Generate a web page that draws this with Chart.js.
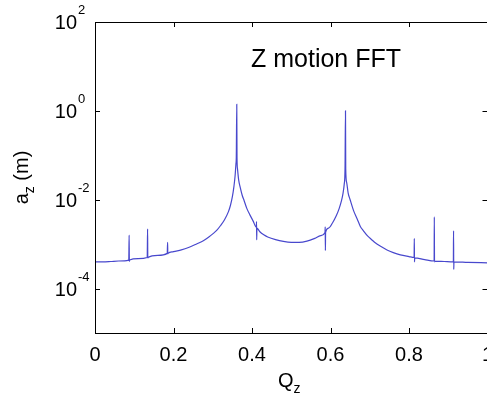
<!DOCTYPE html>
<html>
<head>
<meta charset="utf-8">
<script src="https://cdn.jsdelivr.net/npm/chart.js@4"></script>
<style>
  html, body { margin: 0; padding: 0; background: #fff; overflow: hidden; }
  #wrap { position: absolute; left: 0; top: 0; width: 520px; height: 397px; }
</style>
</head>
<body>
<div id="wrap"><canvas id="fftChart" width="520" height="397"></canvas></div>
<script>
// tune Q_z and FFT amplitude a_z (m)
const qValues = [
    0.000, 0.020, 0.040, 0.060, 0.086, 0.087, 0.0875, 0.088, 0.110, 0.133,
    0.134, 0.1345, 0.135, 0.160, 0.184, 0.185, 0.1855, 0.186, 0.200, 0.220,
    0.240, 0.260, 0.270, 0.280, 0.290, 0.300, 0.310, 0.320, 0.330, 0.340,
    0.345, 0.350, 0.354, 0.357, 0.359, 0.360, 0.3612, 0.3618, 0.363, 0.366,
    0.370, 0.375, 0.380, 0.387, 0.395, 0.403, 0.411, 0.4115, 0.412, 0.4125,
    0.420, 0.430, 0.440, 0.460, 0.480, 0.500, 0.520, 0.540, 0.560, 0.575,
    0.586, 0.5865, 0.587, 0.5875, 0.595, 0.605, 0.615, 0.622, 0.628, 0.632,
    0.635, 0.637, 0.6382, 0.6388, 0.641, 0.645, 0.650, 0.659, 0.668, 0.676,
    0.684, 0.695, 0.705, 0.714, 0.730, 0.744, 0.760, 0.778, 0.800, 0.813,
    0.8135, 0.814, 0.8145, 0.840, 0.864, 0.8645, 0.865, 0.8655, 0.890, 0.913,
    0.9135, 0.914, 0.9145, 0.950, 1.000
];
const azValues = [
    4.0e-4, 4.0e-4, 4.07e-4, 4.17e-4, 4.37e-4, 1.6e-3, 4.1e-4, 4.4e-4, 4.7e-4, 5.0e-4,
    2.2e-3, 4.9e-4, 5.0e-4, 5.6e-4, 6.2e-4, 1.1e-3, 6.1e-4, 6.2e-4, 6.8e-4, 7.4e-4,
    8.5e-4, 1.02e-3, 1.12e-3, 1.26e-3, 1.45e-3, 1.7e-3, 2.04e-3, 2.63e-3, 3.55e-3, 5.4e-3,
    7.4e-3, 1.17e-2, 2.0e-2, 3.5e-2, 6.3e-2, 9.3e-2, 1.4, 9.0e-2, 5.0e-2, 2.8e-2,
    1.9e-2, 1.26e-2, 9.5e-3, 6.3e-3, 4.5e-3, 3.3e-3, 2.4e-3, 3.2e-3, 1.25e-3, 2.3e-3,
    1.9e-3, 1.62e-3, 1.45e-3, 1.26e-3, 1.15e-3, 1.1e-3, 1.1e-3, 1.17e-3, 1.35e-3, 1.55e-3,
    1.82e-3, 2.45e-3, 7.2e-4, 1.85e-3, 2.3e-3, 3.0e-3, 4.4e-3, 6.3e-3, 9.5e-3, 1.41e-2,
    2.24e-2, 5.0e-2, 1.0, 5.0e-2, 2.5e-2, 1.41e-2, 1.0e-2, 5.6e-3, 3.7e-3, 2.5e-3,
    2.0e-3, 1.51e-3, 1.26e-3, 1.07e-3, 8.7e-4, 7.4e-4, 6.46e-4, 5.75e-4, 5.25e-4, 5.0e-4,
    1.35e-3, 4.0e-4, 4.9e-4, 4.47e-4, 4.17e-4, 4.1e-3, 4.0e-4, 4.15e-4, 4.07e-4, 4.0e-4,
    2.0e-3, 2.7e-4, 4.0e-4, 3.9e-4, 3.8e-4
];
const xTickValues = [0, 0.2, 0.4, 0.6, 0.8, 1];
const yTickValues = [1e-4, 1e-2, 1e0, 1e2];
const yTickExponents = ['-4', '-2', '0', '2'];
const plotTitle = 'Z motion FFT';

const FONT = "'Liberation Sans', Arial, sans-serif";

// matlab style box, inward ticks, superscript / subscript labels
const matlabAxes = {
    id: 'matlabAxes',
    afterDraw(chart) {
        const ctx = chart.ctx;
        const a = chart.chartArea;
        const x = chart.scales.x;
        const y = chart.scales.y;
        ctx.save();
        ctx.strokeStyle = '#000';
        ctx.lineWidth = 1;
        ctx.strokeRect(a.left + 0.5, a.top + 0.5, a.right - a.left, a.bottom - a.top);

        ctx.beginPath();
        xTickValues.forEach(v => {
            const px = Math.round(x.getPixelForValue(v)) + 0.5;
            ctx.moveTo(px, a.bottom); ctx.lineTo(px, a.bottom - 5);
            ctx.moveTo(px, a.top); ctx.lineTo(px, a.top + 5);
        });
        yTickValues.forEach(v => {
            const py = Math.round(y.getPixelForValue(v)) + 0.5;
            ctx.moveTo(a.left, py); ctx.lineTo(a.left + 5, py);
            ctx.moveTo(a.right, py); ctx.lineTo(a.right - 5, py);
        });
        ctx.stroke();

        ctx.fillStyle = '#000';
        ctx.textBaseline = 'alphabetic';
        yTickValues.forEach((v, i) => {
            const py = y.getPixelForValue(v);
            ctx.font = '20px ' + FONT;
            ctx.textAlign = 'right';
            ctx.fillText('10', a.left - 18, py + 7);
            ctx.font = '13px ' + FONT;
            ctx.textAlign = 'left';
            ctx.fillText(yTickExponents[i], a.left - 17, py - 8);
        });

        // y title: a_z (m)
        ctx.save();
        ctx.translate(a.left - 67, (a.top + a.bottom) / 2);
        ctx.rotate(-Math.PI / 2);
        ctx.font = '20px ' + FONT;
        const wA = ctx.measureText('a').width;
        const wM = ctx.measureText(' (m)').width;
        ctx.font = '14px ' + FONT;
        const wZ = ctx.measureText('z').width;
        const x0 = -(wA + wZ + wM) / 2;
        ctx.textAlign = 'left';
        ctx.font = '20px ' + FONT;
        ctx.fillText('a', x0, 0);
        ctx.font = '14px ' + FONT;
        ctx.fillText('z', x0 + wA, 6);
        ctx.font = '20px ' + FONT;
        ctx.fillText(' (m)', x0 + wA + wZ, 0);
        ctx.restore();

        // x title: Q_z
        ctx.font = '20px ' + FONT;
        const wQ = ctx.measureText('Q').width;
        ctx.font = '14px ' + FONT;
        const wz = ctx.measureText('z').width;
        const cx = (a.left + a.right) / 2 - 2;
        ctx.textAlign = 'left';
        ctx.font = '20px ' + FONT;
        ctx.fillText('Q', cx - (wQ + wz) / 2, a.bottom + 54);
        ctx.font = '14px ' + FONT;
        ctx.fillText('z', cx - (wQ + wz) / 2 + wQ, a.bottom + 60);

        // title inside the axes
        ctx.font = '25px ' + FONT;
        ctx.fillText(plotTitle, a.left + 156, a.top + 45);
        ctx.restore();
    }
};

new Chart(document.getElementById('fftChart'), {
    type: 'line',
    data: {
        datasets: [{
            data: qValues.map((q, i) => ({x: q, y: azValues[i]})),
            borderColor: 'rgb(72, 72, 205)',
            borderWidth: 1.2,
            pointRadius: 0,
            cubicInterpolationMode: 'monotone',
            fill: false
        }]
    },
    options: {
        responsive: false,
        animation: false,
        devicePixelRatio: 1,
        layout: { padding: { left: 0, top: 22, right: 32.5, bottom: 0 } },
        plugins: {
            legend: { display: false },
            tooltip: { enabled: false }
        },
        scales: {
            x: {
                type: 'linear',
                min: 0,
                max: 1,
                grid: { display: false, drawTicks: false },
                border: { display: false },
                ticks: {
                    color: '#000',
                    font: { family: FONT, size: 20 },
                    padding: 10,
                    maxRotation: 0,
                    autoSkip: false,
                    callback: v => String(+v.toFixed(1))
                },
                afterBuildTicks: s => { s.ticks = xTickValues.map(v => ({value: v})); },
                afterFit: s => { s.height = 64; s.paddingLeft = 0; s.paddingRight = 0; }
            },
            y: {
                type: 'logarithmic',
                min: 1e-5,
                max: 1e2,
                grid: { display: false, drawTicks: false },
                border: { display: false },
                ticks: { display: false },
                afterBuildTicks: s => { s.ticks = yTickValues.map(v => ({value: v})); },
                afterFit: s => { s.width = 95; s.paddingTop = 0; s.paddingBottom = 0; }
            }
        }
    },
    plugins: [matlabAxes]
});
</script>
</body>
</html>
